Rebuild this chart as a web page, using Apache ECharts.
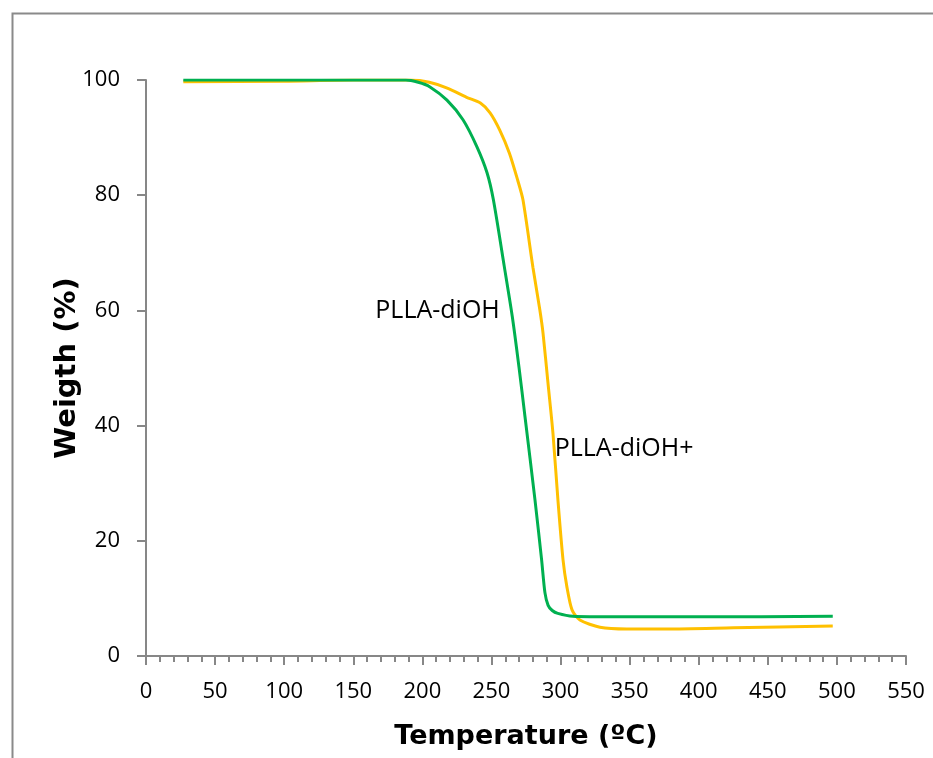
<!DOCTYPE html>
<html>
<head>
<meta charset="utf-8">
<script src="https://cdn.jsdelivr.net/npm/echarts@6/dist/echarts.min.js"></script>
<style>html,body{margin:0;padding:0;background:#fff;}#c{width:933px;height:758px;}</style>
</head>
<body>
<div id="c"></div>
<script>
// PLLA-diOH (green)
var tempA = [27, 100, 150, 188, 197, 205.5, 217.8, 229.4, 239.5, 246.8, 251.4, 259.3, 265.1, 269.9, 274.3, 281.5, 286.3, 288.7, 291, 294, 298, 309, 341, 401, 497];
var weightA = [100, 100, 100, 100, 99.6, 98.8, 96.5, 93.1, 88.4, 83.9, 79.2, 67.6, 58.9, 50.2, 41.5, 27.1, 16.7, 11.0, 8.8, 7.9, 7.4, 6.9, 6.8, 6.8, 6.9];
// PLLA-diOH+ (yellow)
var tempB = [27, 100, 150, 192, 205, 218, 232, 242, 249, 256, 263, 269, 272.8, 280, 285, 287.3, 290.9, 294.5, 298.1, 301.8, 304.6, 308.3, 314, 328.5, 348, 377, 425, 497];
var weightB = [99.7, 99.8, 100, 100, 99.6, 98.6, 97.0, 96.0, 94.3, 91.3, 87.3, 82.6, 79.2, 67.5, 60.1, 56.1, 47.4, 38.7, 27.1, 16.7, 12.0, 8.0, 6.25, 5.0, 4.7, 4.7, 4.9, 5.2];
var seriesNames = ['PLLA-diOH', 'PLLA-diOH+'];
var labelAtA = [211, 60];
var labelAtB = [346, 36];
var xTicks = {min: 0, max: 550, step: 50};
var yTicks = {min: 0, max: 100, step: 20};

function pairs(t, w) { return t.map(function (v, i) { return [v, w[i]]; }); }

var chart = echarts.init(document.getElementById('c'), null, {renderer: 'canvas'});
var axisGrey = '#878787';
var tickFont = {fontFamily: 'Open Sans', fontSize: 22, color: '#000'};
var noteFont = {fontFamily: 'Open Sans', fontSize: 25, color: '#000'};
chart.setOption({
  animation: false,
  backgroundColor: '#fff',
  graphic: [{
    type: 'rect', left: 10, top: 11,
    shape: {width: 1000, height: 800},
    style: {fill: 'none', stroke: '#8a8a8a', lineWidth: 2}
  }],
  grid: {left: 146, right: 27, top: 80, bottom: 102, containLabel: false},
  xAxis: {
    type: 'value', min: xTicks.min, max: xTicks.max, interval: xTicks.step,
    name: 'Temperature (ºC)', nameLocation: 'middle', nameGap: 67, nameMoveOverlap: false,
    nameTextStyle: {fontFamily: 'DejaVu Sans', fontWeight: 'bold', fontSize: 27, color: '#000'},
    axisLine: {show: true, onZero: false, lineStyle: {color: axisGrey, width: 2}},
    axisTick: {show: true, length: 9, lineStyle: {color: axisGrey, width: 2}},
    minorTick: {show: true, splitNumber: 5, length: 6, lineStyle: {color: axisGrey, width: 2}},
    splitLine: {show: false},
    axisLabel: Object.assign({margin: 25}, tickFont)
  },
  yAxis: {
    type: 'value', min: yTicks.min, max: yTicks.max, interval: yTicks.step,
    name: 'Weigth (%)', nameLocation: 'middle', nameGap: 64, nameRotate: 90, nameMoveOverlap: false,
    nameTextStyle: {fontFamily: 'DejaVu Sans', fontWeight: 'bold', fontSize: 29, color: '#000'},
    axisLine: {show: true, lineStyle: {color: axisGrey, width: 2}},
    axisTick: {show: true, length: 9, lineStyle: {color: axisGrey, width: 2}},
    splitLine: {show: false},
    axisLabel: Object.assign({margin: 26}, tickFont)
  },
  series: [{
    name: seriesNames[1], type: 'line', data: pairs(tempB, weightB),
    showSymbol: false, smooth: 0.25,
    lineStyle: {color: '#FFC000', width: 3}, itemStyle: {color: '#FFC000'},
    markPoint: {
      symbolSize: 0,
      data: [{coord: labelAtB, value: seriesNames[1]}],
      label: Object.assign({show: true, position: 'inside', formatter: seriesNames[1]}, noteFont)
    }
  }, {
    name: seriesNames[0], type: 'line', data: pairs(tempA, weightA),
    showSymbol: false, smooth: 0.25,
    lineStyle: {color: '#00B050', width: 3}, itemStyle: {color: '#00B050'},
    markPoint: {
      symbolSize: 0,
      data: [{coord: labelAtA, value: seriesNames[0]}],
      label: Object.assign({show: true, position: 'inside', formatter: seriesNames[0]}, noteFont)
    }
  }]
});
</script>
</body>
</html>
